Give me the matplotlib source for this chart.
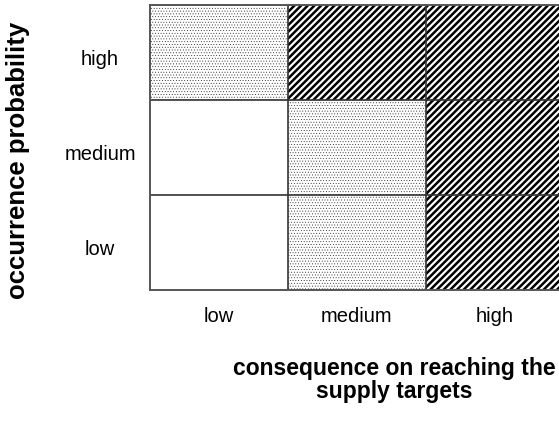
import matplotlib
matplotlib.use("Agg")
import matplotlib.pyplot as plt
import numpy as np

plt.rcParams['font.family'] = ['Liberation Sans', 'DejaVu Sans']

consequence = ["low", "medium", "high"]
probability = ["low", "medium", "high"]
# risk level per (probability row, consequence column): 0 none, 1 dotted, 2 hatched
risk = [
    [0, 1, 2],  # low probability
    [0, 1, 2],  # medium probability
    [1, 2, 2],  # high probability
]

fig = plt.figure(figsize=(5.59, 4.23), dpi=100)
ax = fig.add_axes([150/559, 1 - 290/423, 414/559, 285/423])

styles = {
    0: dict(hatch=None, ec="white", lw_h=1.0),
    1: dict(hatch="......", ec="#222222", lw_h=0.3),
    2: dict(hatch="/////", ec="black", lw_h=1.8),
}

for r, row in enumerate(risk):
    for c, lvl in enumerate(row):
        st = styles[lvl]
        plt.rcParams['hatch.linewidth'] = st["lw_h"]
        ax.bar(c, 1, bottom=r, width=1, align="edge", color="white",
               edgecolor=st["ec"], linewidth=0, hatch=st["hatch"])

for v in [1, 2]:
    ax.axvline(v, color="#333333", lw=1.2)
    ax.axhline(v, color="#333333", lw=1.2)

ax.set_xlim(0, 3)
ax.set_ylim(0, 3)
for s in ax.spines.values():
    s.set_color("#555555")
    s.set_linewidth(1.4)

ax.set_xticks(np.arange(3) + 0.5)
ax.set_xticklabels(consequence, fontsize=14.5)
ax.set_yticks(np.arange(3) + 0.45)
ax.set_yticklabels(probability, fontsize=14.5, ha="center")
ax.tick_params(axis="x", length=0, pad=12)
ax.tick_params(axis="y", length=0, pad=36)

fig.text(18/559, 1 - 160/423, "occurrence probability", rotation=90,
         ha="center", va="center", fontsize=18.5, fontweight="bold")
fig.text(394/559, 1 - 380/423, "consequence on reaching the\nsupply targets",
         ha="center", va="center", fontsize=16.5, fontweight="bold",
         linespacing=1.0)

fig.savefig("out.png", dpi=100)
